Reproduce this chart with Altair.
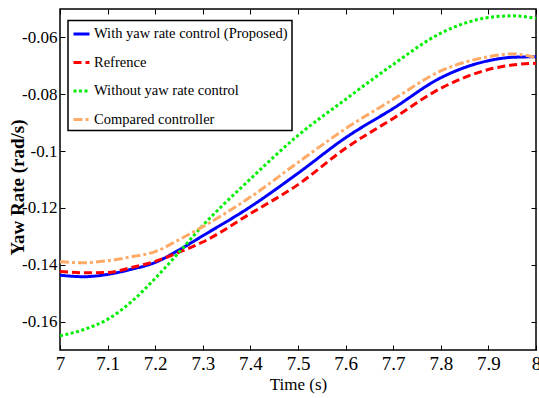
import altair as alt
import pandas as pd

# Sample times (s)
t = [7.0, 7.05, 7.1, 7.15, 7.2, 7.25, 7.3, 7.4, 7.5, 7.6, 7.7, 7.8, 7.9, 7.95, 8.0]

# Yaw rate responses (rad/s)
proposed = [-0.1437, -0.1442, -0.1434, -0.1416, -0.1392, -0.1348, -0.1298, -0.1196,
            -0.1078, -0.0953, -0.0850, -0.0742, -0.0682, -0.0670, -0.0668]
reference = [-0.1424, -0.1428, -0.1427, -0.1410, -0.1388, -0.1356, -0.1320, -0.1220,
             -0.1118, -0.0990, -0.0885, -0.0779, -0.0713, -0.0697, -0.0691]
no_control = [-0.1650, -0.1628, -0.1592, -0.1530, -0.1448, -0.1356, -0.1262, -0.1098,
              -0.0945, -0.0818, -0.0695, -0.0585, -0.0530, -0.0524, -0.0533]
compared = [-0.1389, -0.1393, -0.1386, -0.1372, -0.1354, -0.1312, -0.1266, -0.1162,
            -0.1040, -0.0921, -0.0818, -0.0718, -0.0668, -0.0658, -0.0671]

series_names = [
    "With yaw rate control (Proposed)",
    "Refrence",
    "Without yaw rate control",
    "Compared controller",
]
series_colors = ["#0000ff", "#ff0000", "#00ee00", "#ffaa66"]
series_dashes = [[1, 0], [8, 4], [3, 2.5], [9, 3, 3, 3]]

x_ticks = [7.0, 7.1, 7.2, 7.3, 7.4, 7.5, 7.6, 7.7, 7.8, 7.9, 8.0]
y_ticks = [-0.16, -0.14, -0.12, -0.1, -0.08, -0.06]

rows = []
for name, values in zip(series_names, [proposed, reference, no_control, compared]):
    for tt, v in zip(t, values):
        rows.append({"t": tt, "yaw": v, "series": name})
df = pd.DataFrame(rows)

FONT = "Liberation Serif"
x_scale = alt.Scale(domain=[7, 8], nice=False, zero=False)
y_scale = alt.Scale(domain=[-0.17, -0.05], nice=False, zero=False)
y_label_expr = "replace(format(datum.value, '.2~f'), '\u2212', '-')"

tick_style = dict(offset=-5, tickSize=5, domain=False, grid=False,
                  tickColor="black", tickWidth=1)

lines = alt.Chart(df).mark_line(strokeWidth=3, interpolate="monotone", strokeCap="butt").encode(
    x=alt.X("t:Q", scale=x_scale,
            axis=alt.Axis(values=x_ticks, format=".1~f", title="Time (s)", orient="bottom",
                          labelFlush=False, labelOverlap=False, labelPadding=4,
                          labelFontSize=19, titleFontSize=17,
                          titleX=238, titleY=39, titleBaseline="middle",
                          **tick_style)),
    y=alt.Y("yaw:Q", scale=y_scale,
            axis=alt.Axis(values=y_ticks, labelExpr=y_label_expr, title="Yaw Rate (rad/s)",
                          orient="left", labelPadding=3, labelFontSize=17,
                          titleFontWeight="bold", titleFontSize=19,
                          titleX=-48, titleY=178, titleBaseline="middle", titleAngle=270,
                          **tick_style)),
    color=alt.Color("series:N", scale=alt.Scale(domain=series_names, range=series_colors),
                    legend=alt.Legend(title=None)),
    strokeDash=alt.StrokeDash("series:N", scale=alt.Scale(domain=series_names, range=series_dashes),
                              legend=alt.Legend(title=None)),
    detail="series:N",
)

# Mirror ticks on the top and right edges of the box
mirror = alt.Chart(df).mark_line(opacity=0).encode(
    x=alt.X("t:Q", scale=x_scale,
            axis=alt.Axis(values=x_ticks, orient="top", labels=False, title=None, **tick_style)),
    y=alt.Y("yaw:Q", scale=y_scale,
            axis=alt.Axis(values=y_ticks, orient="right", labels=False, title=None, **tick_style)),
)

chart = alt.layer(lines, mirror).resolve_axis(x="independent", y="independent").properties(
    width=476,
    height=341,
    autosize=alt.AutoSizeParams(type="none"),
    padding={"left": 60, "top": 9, "right": 3, "bottom": 48},
).configure_view(
    stroke="black", strokeWidth=1.5
).configure_axis(
    labelFont=FONT, labelColor="black",
    titleFont=FONT, titleColor="black", titleFontWeight="normal",
).configure_legend(
    orient="none", legendX=8, legendY=11.5,
    fillColor="white", strokeColor="black", strokeWidth=1.5,
    padding=4, rowPadding=12.5, labelOffset=3, labelLimit=400,
    labelFont=FONT, labelFontSize=14.5, labelColor="black",
    symbolType="stroke", symbolSize=256, symbolStrokeWidth=3,
)

chart.save("out.html", embed_options={"renderer": "svg", "actions": False})
